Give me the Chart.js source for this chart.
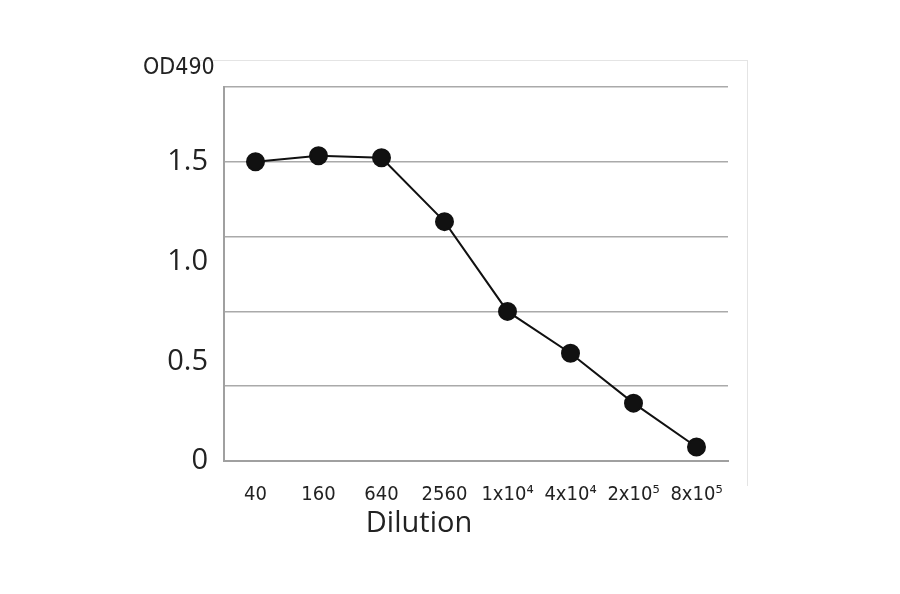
<!DOCTYPE html>
<html>
<head>
<meta charset="utf-8">
<script src="https://cdn.jsdelivr.net/npm/chart.js@4"></script>
<style>
  html, body { margin: 0; padding: 0; background: #fff; }
  #wrap { position: relative; width: 900px; height: 594px; }
  #frame { position: absolute; left: 190px; top: 60px; width: 557px; height: 425px;
           border-top: 1px solid #e4e4e4; border-right: 1px solid #e4e4e4; }
  canvas { position: absolute; left: 0; top: 0; }
</style>
</head>
<body>
<div id="wrap">
  <div id="frame"></div>
  <canvas id="odChart" width="900" height="594"></canvas>
</div>
<script>
// dilution series and measured OD490
var dilutions = ["40", "160", "640", "2560", "1x10\u2074", "4x10\u2074", "2x10\u2075", "8x10\u2075"];
var od490 = [1.5, 1.53, 1.52, 1.2, 0.75, 0.54, 0.29, 0.07];
var yLabelTicks = [0, 0.5, 1.0, 1.5];
var yMax = 1.875;
var gridStep = 0.375;

var narrow = "'Liberation Sans Narrow', 'DejaVu Sans Condensed', sans-serif";

// axis titles drawn by hand, the original has them off-centre
var titles = {
    id: "titles",
    afterDraw: function(chart) {
        var c = chart.ctx, a = chart.chartArea;
        c.save();
        c.fillStyle = "#222";
        c.textBaseline = "middle";
        c.font = "23px " + narrow;
        c.textAlign = "left";
        c.fillText("OD490", a.left - 81, a.top - 19);
        c.font = "29px 'Open Sans', sans-serif";
        c.textAlign = "center";
        c.fillText("Dilution", a.left + 195, a.bottom + 63);
        c.restore();
    }
};

var ctx = document.getElementById("odChart").getContext("2d");
var odChart = new Chart(ctx, {
    type: "line",
    data: {
        labels: dilutions,
        datasets: [{
            label: "OD490",
            data: od490,
            borderColor: "#111",
            borderWidth: 2,
            backgroundColor: "#111",
            pointBackgroundColor: "#111",
            pointBorderColor: "#111",
            pointRadius: 8.5,
            tension: 0,
            yAxisID: "y"
        }]
    },
    options: {
        responsive: false,
        animation: false,
        layout: { padding: { left: 0, top: 87, right: 172, bottom: 0 } },
        plugins: { legend: { display: false }, tooltip: { enabled: false } },
        scales: {
            x: {
                offset: true,
                grid: { display: false },
                border: { color: "#a0a0a0", width: 2 },
                ticks: { color: "#222", padding: 14, font: { size: 20, family: narrow } },
                afterFit: function(s) { s.height = 133; }
            },
            y: {
                position: "left",
                min: 0, max: yMax,
                grid: { display: false },
                border: { display: true, color: "#a0a0a0", width: 2 },
                afterBuildTicks: function(s) {
                    s.ticks = yLabelTicks.map(function(v) { return { value: v }; });
                },
                ticks: {
                    color: "#222", padding: 8,
                    font: { size: 29, family: "'Open Sans', sans-serif" },
                    callback: function(v) { return v === 0 ? "0" : v.toFixed(1); }
                },
                afterFit: function(s) { s.width = 224; }
            },
            yGrid: {
                position: "left",
                min: 0, max: yMax,
                grid: { color: "#aaaaaa", lineWidth: 1.5, drawTicks: false },
                border: { display: false },
                ticks: { display: false, stepSize: gridStep },
                afterFit: function(s) { s.width = 0; }
            }
        }
    },
    plugins: [titles]
});
</script>
</body>
</html>
